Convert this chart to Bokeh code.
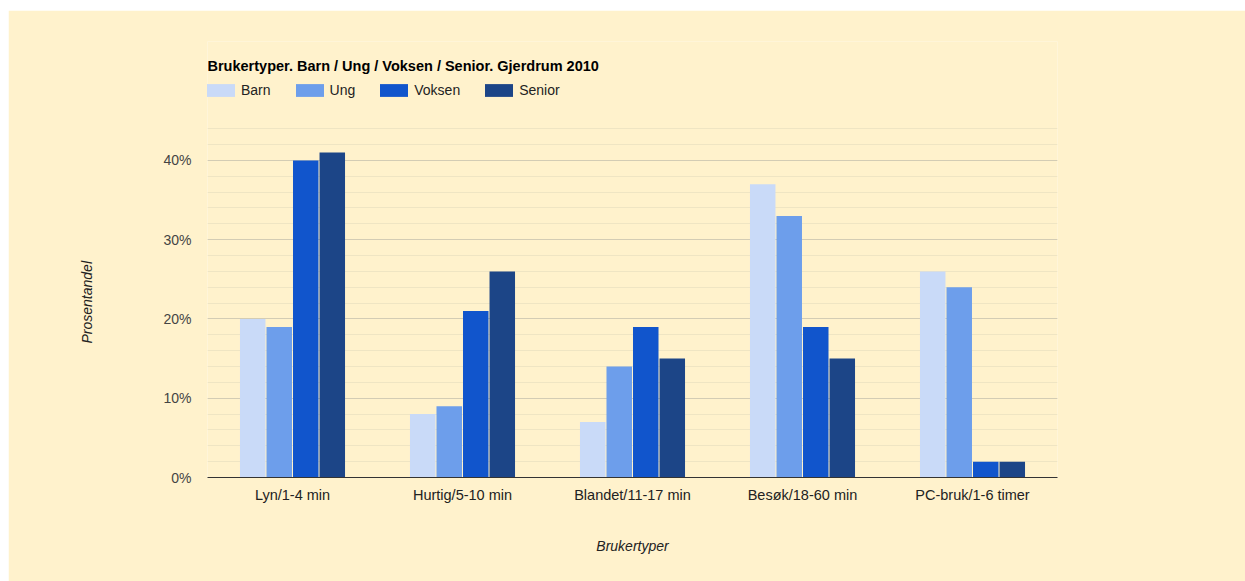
from bokeh.plotting import figure
from bokeh.models import (ColumnDataSource, Legend, LegendItem, Label, Title, Spacer,
                          SingleIntervalTicker, PrintfTickFormatter, Range1d, FactorRange)
from bokeh.transform import dodge
from bokeh.layouts import column, row
from bokeh.embed import file_html
from bokeh.resources import INLINE

# Usage types and share of each user group (percent)
categories = ["Lyn/1-4 min", "Hurtig/5-10 min", "Blandet/11-17 min",
              "Besøk/18-60 min", "PC-bruk/1-6 timer"]
barn = [20, 8, 7, 37, 26]
ung = [19, 9, 14, 33, 24]
voksen = [40, 21, 19, 19, 2]
senior = [41, 26, 15, 15, 2]
series_names = ["Barn", "Ung", "Voksen", "Senior"]

colors = ["#c9daf8", "#6d9eeb", "#1155cc", "#1c4587"]
bg = "#fff2cc"
font = "Liberation Sans"
fs = "14px"
fs_big = "14.5px"

source = ColumnDataSource(dict(cat=categories, Barn=barn, Ung=ung,
                               Voksen=voksen, Senior=senior))

# the frame reaches up past the grid so the title and legend sit inside it
p = figure(width=1237, height=571, output_backend="svg", toolbar_location=None,
           x_range=FactorRange(*categories, range_padding=0),
           y_range=Range1d(0, 55),
           min_border_left=199, min_border_right=188,
           min_border_top=31, min_border_bottom=104)
p.background_fill_color = bg
p.border_fill_color = bg
p.outline_line_color = None

# grouped bars
step = 0.156
width = 0.150
offsets = [-1.5 * step, -0.5 * step, 0.5 * step, 1.5 * step]
renderers = []
for name, col, off in zip(series_names, colors, offsets):
    r = p.vbar(x=dodge("cat", off, range=p.x_range), top=name, width=width,
               source=source, fill_color=col, line_color=None)
    renderers.append(r)

# y axis and grid (grid limited to 0-44 %)
p.yaxis.ticker = SingleIntervalTicker(interval=10, num_minor_ticks=5)
p.yaxis.bounds = (0, 44)
p.yaxis.formatter = PrintfTickFormatter(format="%d%%")
p.yaxis.axis_line_color = None
p.yaxis.major_tick_line_color = None
p.yaxis.minor_tick_line_color = None
p.yaxis.major_tick_out = 0
p.yaxis.minor_tick_out = 0
p.yaxis.major_label_standoff = 16
p.yaxis.major_label_text_font = font
p.yaxis.major_label_text_font_size = fs
p.yaxis.major_label_text_color = "#444444"

# vertical axis title, placed beside the gridded part of the frame
p.add_layout(Title(text="Prosentandel", align="left", offset=134, standoff=132,
                   text_font=font, text_font_size=fs, text_font_style="italic",
                   text_color="#222222"), "left")

p.ygrid.bounds = (0, 44)
p.ygrid.grid_line_color = "#d3ccb4"
p.ygrid.minor_grid_line_color = "#efe5c3"
p.xgrid.grid_line_color = None

# x axis
p.xaxis.axis_line_color = "#333333"
p.xaxis.major_tick_line_color = None
p.xaxis.minor_tick_line_color = None
p.xaxis.major_tick_out = 0
p.xaxis.major_label_standoff = 9
p.xaxis.major_label_text_font = font
p.xaxis.major_label_text_font_size = fs_big
p.xaxis.major_label_text_color = "#222222"
p.xaxis.axis_label = "Brukertyper"
p.xaxis.axis_label_text_font = font
p.xaxis.axis_label_text_font_size = fs
p.xaxis.axis_label_text_font_style = "italic"
p.xaxis.axis_label_text_color = "#222222"
p.xaxis.axis_label_standoff = 32

# chart title
p.add_layout(Label(x=0, y=412, x_units="screen", y_units="screen",
                   text="Brukertyper. Barn / Ung / Voksen / Senior. Gjerdrum 2010",
                   text_font=font, text_font_size=fs_big, text_font_style="bold",
                   text_color="#000000", text_baseline="alphabetic"))

# legend row under the title
legend = Legend(items=[LegendItem(label=n, renderers=[r]) for n, r in zip(series_names, renderers)],
                orientation="horizontal", location=(-4, 379),
                glyph_width=35, glyph_height=16, label_standoff=3, spacing=21,
                padding=0, margin=0, border_line_color=None, background_fill_alpha=0,
                label_text_font=font, label_text_font_size=fs,
                label_text_color="#222222")
p.add_layout(legend, "center")

layout = column(Spacer(height=10), row(Spacer(width=8), p))
open("out.html", "w").write(file_html(layout, INLINE))
